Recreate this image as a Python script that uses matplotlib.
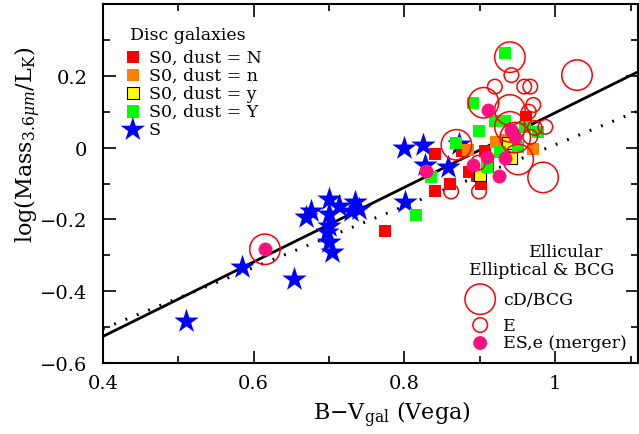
import numpy as np
import matplotlib
matplotlib.use("Agg")
import matplotlib.pyplot as plt

plt.rcParams['font.family'] = ['DejaVu Serif']
plt.rcParams['mathtext.fontset'] = 'dejavuserif'

# S galaxies (stars)
s_bv = [0.510, 0.585, 0.654, 0.669, 0.676, 0.700, 0.700, 0.700, 0.697, 0.700, 0.704,
        0.713, 0.735, 0.740, 0.729, 0.799, 0.825, 0.801, 0.828, 0.858, 0.872]
s_ml = [-0.482, -0.332, -0.366, -0.194, -0.177, -0.144, -0.186, -0.219, -0.235, -0.263, -0.291,
        -0.163, -0.150, -0.172, -0.177, 0.000, 0.008, -0.150, -0.047, -0.055, 0.010]

# S0, dust = N
n_bv = [0.774, 0.840, 0.841, 0.860, 0.876, 0.907, 0.886, 0.901, 0.911, 0.961, 0.896]
n_ml = [-0.233, -0.017, -0.122, -0.100, -0.008, -0.008, -0.069, -0.102, -0.053, 0.086, -0.080]

# S0, dust = n
ln_bv = [0.885, 0.922, 0.929, 0.971, 0.935]
ln_ml = [-0.006, 0.017, -0.005, -0.003, 0.020]

# S0, dust = y
y_bv = [0.938, 0.942, 0.900]
y_ml = [0.014, -0.028, -0.075]

# S0, dust = Y
g_bv = [0.934, 0.891, 0.899, 0.920, 0.934, 0.960, 0.977, 0.869, 0.835, 0.909, 0.951, 0.927, 0.815]
g_ml = [0.263, 0.125, 0.047, 0.075, 0.075, 0.058, 0.044, 0.014, -0.083, -0.055, 0.003, -0.011, -0.188]

# cD/BCG (big open circles)
cd_bv = [0.940, 1.029, 0.905, 0.940, 0.940, 0.869, 0.947, 0.951, 0.984, 0.615]
cd_ml = [0.252, 0.202, 0.125, 0.105, 0.058, 0.008, 0.028, -0.033, -0.083, -0.283]

# E (small open circles)
e_bv = [0.942, 0.920, 0.959, 0.967, 0.971, 0.965, 0.987, 0.973, 0.899, 0.862, 0.898, 0.967]
e_ml = [0.202, 0.170, 0.170, 0.170, 0.119, 0.100, 0.058, 0.055, -0.122, -0.122, -0.042, 0.030]

# ES,e (merger)
m_bv = [0.615, 0.829, 0.891, 0.909, 0.934, 0.926, 0.911, 0.942, 0.947]
m_ml = [-0.283, -0.064, -0.047, -0.025, -0.028, -0.078, 0.105, 0.050, 0.030]

# relations
fit_solid = (1.038, -0.941)
fit_dot = (0.854, -0.846)

RED = '#ff0000'
ORANGE = '#ff8000'
YELLOW = '#ffff00'
GREEN = '#00ff00'
BLUE = '#0000ff'
PINK = '#ff1080'

fig = plt.figure(figsize=(6.39, 4.35), dpi=100)
ax = fig.add_axes([0.161, 0.163, 0.8375, 0.8255])

xx = np.array([0.4, 1.11])
ax.plot(xx, fit_solid[0] * xx + fit_solid[1], color='black', lw=2, zorder=1)
ax.plot(xx, fit_dot[0] * xx + fit_dot[1], color='black', lw=2.2, ls=(0, (0.6, 3.4)), zorder=1)

ax.scatter(s_bv, s_ml, marker='*', s=340, color=BLUE, lw=0, zorder=2)
ax.scatter(n_bv, n_ml, marker='s', s=80, color=RED, lw=0, zorder=3)
ax.scatter(ln_bv, ln_ml, marker='s', s=80, color=ORANGE, lw=0, zorder=3)
ax.scatter(y_bv, y_ml, marker='s', s=80, color=YELLOW, edgecolor='black', lw=0.8, zorder=3)
ax.scatter(g_bv, g_ml, marker='s', s=80, color=GREEN, lw=0, zorder=3)
ax.scatter(cd_bv, cd_ml, marker='o', s=480, facecolor='none', edgecolor=RED, lw=1.1, zorder=4)
ax.scatter(e_bv, e_ml, marker='o', s=110, facecolor='none', edgecolor=RED, lw=1.1, zorder=4)
ax.scatter(m_bv, m_ml, marker='o', s=100, color=PINK, lw=0, zorder=5)

ax.set_xlim(0.4, 1.11)
ax.set_ylim(-0.6, 0.4)
ax.set_xticks([0.4, 0.6, 0.8, 1.0])
ax.set_xticklabels(['0.4', '0.6', '0.8', '1'])
ax.set_yticks([-0.6, -0.4, -0.2, 0, 0.2])
ax.set_yticklabels(['\u22120.6', '\u22120.4', '\u22120.2', '0', '0.2'])
ax.set_xticks(np.arange(0.5, 1.11, 0.2), minor=True)
ax.set_yticks(np.arange(-0.5, 0.4, 0.2), minor=True)
ax.tick_params(which='both', direction='in', top=True, right=True, labelsize=14, width=1.2)
ax.tick_params(which='major', length=9)
ax.tick_params(which='minor', length=5)
ax.tick_params(axis='x', pad=8)
ax.tick_params(axis='y', pad=11)
for sp in ax.spines.values():
    sp.set_linewidth(1.5)

ax.set_xlabel('B\u2212V$_{\\rm gal}$ (Vega)', fontsize=16)
ax.xaxis.set_label_coords(0.54, -0.10)
ax.set_ylabel('log(Mass$_{3.6\\mu m}$/L$_{\\rm K}$)', fontsize=16)
ax.yaxis.set_label_coords(-0.112, 0.61)

# legend: disc galaxies
tr = ax.transAxes
ax.text(0.050, 0.916, 'Disc galaxies', transform=tr, fontsize=12.5, va='center', ha='left')
disc_keys = [
    ('s', 80, RED, 'none', 'S0, dust = N'),
    ('s', 80, ORANGE, 'none', 'S0, dust = n'),
    ('s', 80, YELLOW, 'black', 'S0, dust = y'),
    ('s', 80, GREEN, 'none', 'S0, dust = Y'),
    ('*', 340, BLUE, 'none', 'S'),
]
for i, (mk, sz, col, ec, lab) in enumerate(disc_keys):
    yy = 0.852 - i * 0.0505
    ax.scatter([0.056], [yy], marker=mk, s=sz, color=col, edgecolor=ec, lw=0.8 if ec != 'none' else 0,
               transform=tr, clip_on=False, zorder=6)
    ax.text(0.086, yy, lab, transform=tr, fontsize=12.5, va='center', ha='left')

# legend: ellipticals
ax.text(0.865, 0.312, 'Ellicular', transform=tr, fontsize=12.5, va='center', ha='center')
ax.text(0.819, 0.262, 'Elliptical & BCG', transform=tr, fontsize=12.5, va='center', ha='center')
ell_keys = [
    (480, 'none', RED, 'cD/BCG', 0.178),
    (110, 'none', RED, 'E', 0.106),
    (100, PINK, 'none', 'ES,e (merger)', 0.056),
]
for sz, fc, ec, lab, yy in ell_keys:
    ax.scatter([0.705], [yy], marker='o', s=sz, facecolor=fc, edgecolor=ec, lw=1.1 if ec != 'none' else 0,
               transform=tr, clip_on=False, zorder=6)
    ax.text(0.748, yy, lab, transform=tr, fontsize=12.5, va='center', ha='left')

fig.savefig('out.png', dpi=100)
